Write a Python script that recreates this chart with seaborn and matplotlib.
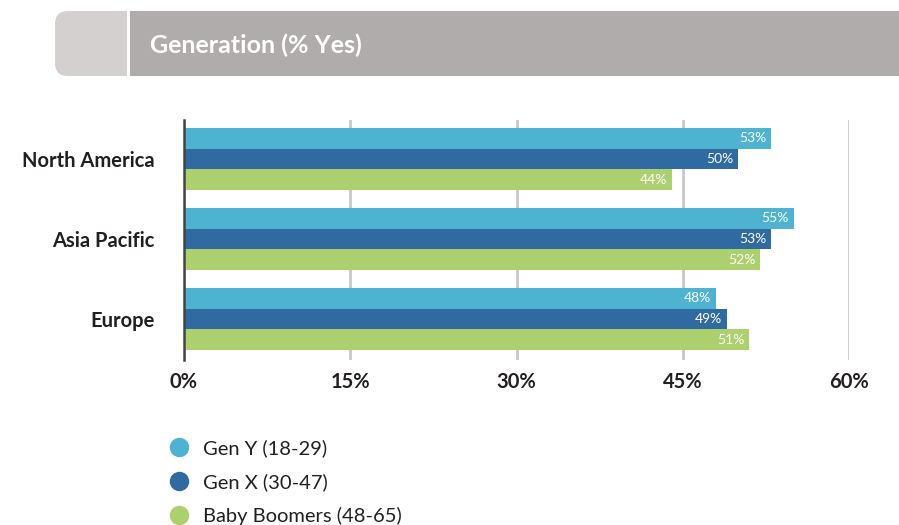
import matplotlib
matplotlib.use("Agg")
import matplotlib.pyplot as plt
import seaborn as sns
import pandas as pd
from matplotlib.patches import FancyBboxPatch, Rectangle
from matplotlib.lines import Line2D
from matplotlib.transforms import IdentityTransform

regions = ["North America", "Asia Pacific", "Europe"]
series = ["Gen Y (18-29)", "Gen X (30-47)", "Baby Boomers (48-65)"]
gen_y = [53, 55, 48]
gen_x = [50, 53, 49]
boomers = [44, 52, 51]
x_ticks = [0, 15, 30, 45, 60]
x_tick_labels = ["0%", "15%", "30%", "45%", "60%"]
title = "Generation (% Yes)"
colors = ["#4db3d1", "#2f6aa0", "#abd06d"]

df = pd.DataFrame({
    "region": regions * 3,
    "series": [series[0]] * 3 + [series[1]] * 3 + [series[2]] * 3,
    "value": gen_y + gen_x + boomers,
})

sns.set_theme(style="white")
plt.rcParams["font.family"] = ["Lato", "DejaVu Sans"]

W, H = 899, 525
fig = plt.figure(figsize=(W / 100, H / 100), dpi=100)
ax = fig.add_axes([184 / W, 1 - 360 / H, (849 - 184) / W, 240 / H])

sns.barplot(data=df, y="region", x="value", hue="series", order=regions,
            hue_order=series, palette=colors, orient="h", width=0.775,
            saturation=1, ax=ax, legend=False, zorder=3, linewidth=0)

ax.set_xlim(0, 60)
ax.set_ylim(2.5125, -0.4875)
ax.set_xticks(x_ticks)
ax.set_xticklabels(x_tick_labels, fontsize=14.5, fontweight="bold", color="#231f20")
ax.set_yticklabels(regions, fontsize=14.5, fontweight="bold", color="#231f20")
ax.tick_params(axis="x", length=0, pad=9)
ax.tick_params(axis="y", length=0, pad=21)
ax.set_xlabel("")
ax.set_ylabel("")
for s in ["top", "right", "bottom"]:
    ax.spines[s].set_visible(False)
ax.spines["left"].set_color("#444444")
ax.spines["left"].set_linewidth(1.8)
ax.spines["left"].set_zorder(5)
ax.grid(axis="x", color="#c8c8c8", linewidth=2, zorder=0)
ax.set_axisbelow(True)

for cont in ax.containers:
    for bar in cont:
        w = bar.get_width()
        ax.text(w - 0.45, bar.get_y() + bar.get_height() / 2, f"{int(round(w))}%",
                ha="right", va="center", color="white", fontsize=10, zorder=6)

# header (pixel coordinates, origin at bottom-left)
ident = IdentityTransform()
fig.patches.append(FancyBboxPatch((55, H - 76), 72, 65,
                                  boxstyle="round,pad=0,rounding_size=13",
                                  transform=ident, facecolor="#d3d0cf", edgecolor="none"))
fig.patches.append(Rectangle((100, H - 76), 27, 65, transform=ident,
                             facecolor="#d3d0cf", edgecolor="none"))
fig.patches.append(Rectangle((130, H - 76), W - 130, 65, transform=ident,
                             facecolor="#b0acac", edgecolor="none"))
fig.text(150 / W, 1 - 45 / H, title, color="white", fontsize=18, fontweight="bold",
         va="center", ha="left")

handles = [Line2D([], [], marker="o", linestyle="none", markersize=14,
                  markerfacecolor=c, markeredgecolor="none") for c in colors]
fig.legend(handles, series, loc="upper left", bbox_to_anchor=(159 / W, 1 - 439 / H),
           frameon=False, fontsize=14.5, labelspacing=0.8, handletextpad=0.2,
           borderaxespad=0, borderpad=0, labelcolor="#231f20")

fig.savefig("out.png", dpi=100)
